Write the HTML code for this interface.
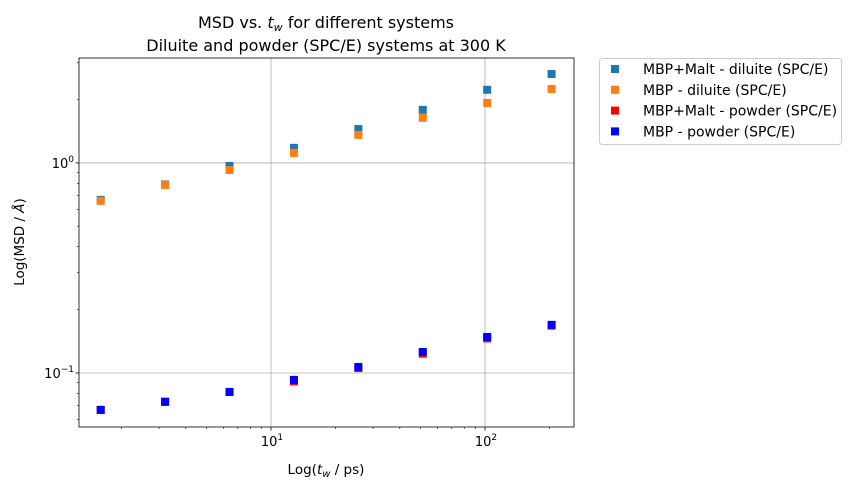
<!DOCTYPE html>
<html><head><meta charset="utf-8"><style>
body{margin:0;background:#fff;font-family:"Liberation Sans","DejaVu Sans",sans-serif;}
svg text{font-family:"DejaVu Sans","Liberation Sans",sans-serif;}
</style></head><body>
<svg id="c" width="851" height="489" xmlns="http://www.w3.org/2000/svg"></svg>
<script>
const xs = [1.6,3.2,6.4,12.8,25.6,51.2,102.4,204.8];
const malDil = [0.667,0.79,0.968,1.18,1.45,1.79,2.23,2.65];
const mbpDil = [0.66,0.786,0.926,1.116,1.36,1.64,1.93,2.25];
const malPow = [0.0667,0.0728,0.0812,0.0912,0.1055,0.1235,0.146,0.168];
const mbpPow = [0.0667,0.073,0.0812,0.0927,0.1068,0.1259,0.1484,0.1695];
const seriesNames = ["MBP+Malt - diluite (SPC/E)","MBP - diluite (SPC/E)","MBP+Malt - powder (SPC/E)","MBP - powder (SPC/E)"];
const colors = ["#1f77b4","#ff7f0e","#ff0000","#0000ff"];
const L=79,R=574,T=58,B=427;
const xmin=Math.log10(1.267),xmax=Math.log10(260.6),ymin=Math.log10(0.0553),ymax=Math.log10(3.16);
const X=v=>L+(Math.log10(v)-xmin)/(xmax-xmin)*(R-L);
const Y=v=>B-(Math.log10(v)-ymin)/(ymax-ymin)*(B-T);
const svg=document.getElementById('c');const NS="http://www.w3.org/2000/svg";
function el(t,a,txt){const e=document.createElementNS(NS,t);for(const k in a)e.setAttribute(k,a[k]);if(txt!==undefined)e.textContent=txt;svg.appendChild(e);return e;}
[10,100].forEach(v=>{const g=el('line',{x1:X(v),x2:X(v),y1:T,y2:B,stroke:'#b0b0b0','stroke-width':0.8});});
[0.1,1].forEach(v=>{const g=el('line',{x1:L,x2:R,y1:Y(v),y2:Y(v),stroke:'#b0b0b0','stroke-width':0.8});});
for(let d=1;d<=100;d*=10)for(let m=1;m<10;m++){const v=d*m;if(v<1.267||v>260.6)continue;const maj=m===1;const t=el('line',{x1:X(v),x2:X(v),y1:B,y2:B+(maj?3.5:2),stroke:'#000','stroke-width':maj?0.8:0.6});}
for(let d=0.01;d<=1;d*=10)for(let m=1;m<10;m++){const v=d*m;if(v<0.0553||v>3.16)continue;const maj=m===1;const t=el('line',{x1:L,x2:L-(maj?3.5:2),y1:Y(v),y2:Y(v),stroke:'#000','stroke-width':maj?0.8:0.6});}
[[10,"1"],[100,"2"]].forEach(([v,e])=>{const t=el('text',{x:X(v)+1,y:B+19,'font-size':13,'text-anchor':'middle'});t.innerHTML='10<tspan dy="-6" font-size="9">'+e+'</tspan>';});
[[1,"0"],[0.1,"−1"]].forEach(([v,e])=>{const t=el('text',{x:L-5,y:Y(v)+5,'font-size':13,'text-anchor':'end'});t.innerHTML='10<tspan dy="-6" font-size="9">'+e+'</tspan>';});
[malDil,mbpDil,malPow,mbpPow].forEach((s,i)=>{s.forEach((v,j)=>{const r=el('rect',{x:X(xs[j])-4,y:Y(v)-4,width:8,height:8,fill:colors[i]});});});
const fr=el('rect',{x:L,y:T,width:R-L,height:B-T,fill:'none',stroke:'#000','stroke-width':0.8});
let t=el('text',{x:326,y:28,'font-size':16,'text-anchor':'middle'});t.innerHTML='MSD vs. <tspan font-style="italic">t</tspan><tspan font-size="11" dy="3" font-style="italic">w</tspan><tspan dy="-3"> for different systems</tspan>';
t=el('text',{x:326,y:51,'font-size':16,'text-anchor':'middle'},'Diluite and powder (SPC/E) systems at 300 K');
t=el('text',{x:326,y:474,'font-size':13.5,'text-anchor':'middle'});t.innerHTML='Log(<tspan font-style="italic">t</tspan><tspan font-size="10" dy="3" font-style="italic">w</tspan><tspan dy="-3"> / ps)</tspan>';
t=el('text',{x:24,y:242,'font-size':13.5,'text-anchor':'middle',transform:'rotate(-90 24 242)'});t.innerHTML='Log(MSD / <tspan font-style="italic">Å</tspan>)';
const lg=el('rect',{x:599.5,y:58.5,width:242,height:86,fill:'#fff',stroke:'#ccc',rx:3});
seriesNames.forEach((n,i)=>{const y=69+i*20.8;const m=el('rect',{x:611,y:y-4,width:8,height:8,fill:colors[i]});const tx=el('text',{x:643,y:y+5,'font-size':14},n);});
</script></body></html>
